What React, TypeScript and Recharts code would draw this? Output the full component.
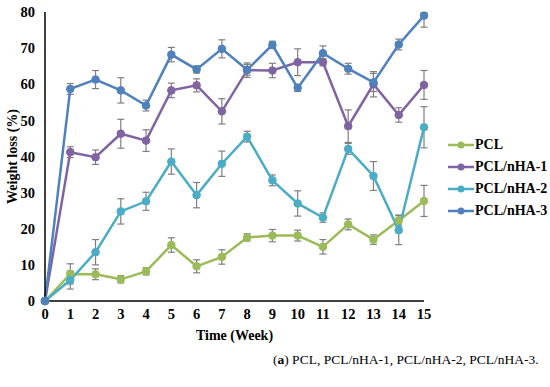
import { LineChart, Line, XAxis, YAxis, ErrorBar } from "recharts";

const weeks = [0, 1, 2, 3, 4, 5, 6, 7, 8, 9, 10, 11, 12, 13, 14, 15];

const pcl = [0, 7.5, 7.4, 6.0, 8.2, 15.5, 9.6, 12.2, 17.6, 18.1, 18.1, 15.0, 21.2, 17.0, 22.3, 27.7];
const pclErr = [0, 2.8, 1.5, 1.0, 1.0, 2.0, 1.8, 2.0, 1.0, 1.7, 1.5, 2.0, 1.5, 1.3, 1.5, 4.3];

const nha1 = [0, 41.2, 39.8, 46.3, 44.4, 58.3, 59.7, 52.5, 63.9, 63.8, 66.1, 66.1, 48.4, 60.0, 51.5, 59.8];
const nha1Err = [0, 1.5, 2.0, 4.0, 3.0, 2.0, 1.8, 3.5, 2.0, 2.0, 3.7, 1.0, 4.5, 3.5, 2.0, 4.0];

const nha2 = [0, 5.8, 13.5, 24.8, 27.6, 38.6, 29.3, 38.0, 45.5, 33.4, 27.0, 23.1, 42.1, 34.6, 19.6, 48.1];
const nha2Err = [0, 2.5, 3.5, 3.5, 2.5, 3.5, 3.5, 3.5, 1.5, 1.5, 3.5, 1.3, 1.5, 4.0, 4.0, 5.7];

const nha3 = [0, 58.7, 61.3, 58.3, 54.1, 68.2, 64.1, 69.8, 64.0, 70.9, 59.0, 68.6, 64.3, 60.5, 71.0, 79.0];
const nha3Err: [number, number][] = [
  [0, 0], [1.5, 1.5], [2.5, 2.5], [3.5, 3.5], [1.5, 1.5], [2, 2], [1, 1], [2.5, 2.5],
  [1.5, 1.5], [1, 1], [1, 1], [2, 2], [1.5, 1.5], [2.5, 2.5], [1.5, 1.5], [3.2, 0.8],
];

const yTicks = [0, 10, 20, 30, 40, 50, 60, 70, 80];

const series = [
  { key: "pcl", err: "pclErr", name: "PCL", color: "#9BBB59" },
  { key: "nha1", err: "nha1Err", name: "PCL/nHA-1", color: "#8064A2" },
  { key: "nha2", err: "nha2Err", name: "PCL/nHA-2", color: "#4BACC6" },
  { key: "nha3", err: "nha3Err", name: "PCL/nHA-3", color: "#4F81BD" },
];

const data = weeks.map((w, i) => ({
  week: w,
  pcl: pcl[i],
  pclErr: pclErr[i],
  nha1: nha1[i],
  nha1Err: nha1Err[i],
  nha2: nha2[i],
  nha2Err: nha2Err[i],
  nha3: nha3[i],
  nha3Err: nha3Err[i],
}));

const font = "'Liberation Serif', 'Times New Roman', serif";
const tickStyle = { fontSize: 14.5, fontWeight: 700, fill: "#000", fontFamily: font };

const LegendBox = () => (
  <div style={{ fontFamily: font, fontWeight: 700, fontSize: 14, color: "#000" }}>
    {series.map((s) => (
      <div key={s.key} style={{ display: "flex", alignItems: "center", height: 22 }}>
        <svg width={26} height={10} style={{ marginRight: 1 }}>
          <line x1={0} y1={5} x2={26} y2={5} stroke={s.color} strokeWidth={2.5} />
          <circle cx={13} cy={5} r={3.5} fill={s.color} />
        </svg>
        <span>{s.name}</span>
      </div>
    ))}
  </div>
);

export default function App() {
  return (
    <div style={{ position: "relative", width: 550, height: 387, background: "#fff" }}>
      <style>{"body{margin:0;background:#fff}"}</style>
      <LineChart
        width={550}
        height={350}
        data={data}
        margin={{ top: 12, right: 126, left: 0, bottom: 4 }}
      >
        <XAxis
          dataKey="week"
          type="number"
          domain={[0, 15]}
          ticks={weeks}
          interval={0}
          height={45}
          tick={tickStyle}
          tickLine={false}
          tickSize={0}
          tickMargin={8}
          axisLine={{ stroke: "#000", strokeWidth: 1.5 }}
          label={{
            value: "Time (Week)",
            position: "insideBottom",
            offset: 6,
            style: { fontSize: 14, fontWeight: 700, fill: "#000", fontFamily: font },
          }}
        />
        <YAxis
          width={45}
          domain={[0, 80]}
          ticks={yTicks}
          interval={0}
          tick={tickStyle}
          tickLine={false}
          tickSize={0}
          tickMargin={10}
          axisLine={{ stroke: "#000", strokeWidth: 1.5 }}
          label={{
            value: "Weight loss (%)",
            angle: -90,
            position: "insideLeft",
            offset: 12,
            style: { fontSize: 14, fontWeight: 700, fill: "#000", fontFamily: font, textAnchor: "middle" },
          }}
        />
        {series.map((s) => (
          <Line
            key={s.key}
            dataKey={s.key}
            name={s.name}
            type="linear"
            stroke={s.color}
            strokeWidth={2.5}
            dot={{ r: 3.8, fill: s.color, stroke: s.color, strokeWidth: 1 }}
            isAnimationActive={false}
          >
            <ErrorBar
              dataKey={s.err}
              direction="y"
              width={3.5}
              stroke="#7F7F7F"
              strokeWidth={1.2}
              isAnimationActive={false}
            />
          </Line>
        ))}
      </LineChart>
      <div style={{ position: "absolute", left: 448, top: 134 }}>
        <LegendBox />
      </div>
      <div
        style={{
          position: "absolute",
          left: 273,
          top: 352,
          fontFamily: font,
          fontSize: 13.5,
          color: "#000",
          whiteSpace: "nowrap",
        }}
      >
        (<b>a</b>) PCL, PCL/nHA-1, PCL/nHA-2, PCL/nHA-3.
      </div>
    </div>
  );
}
